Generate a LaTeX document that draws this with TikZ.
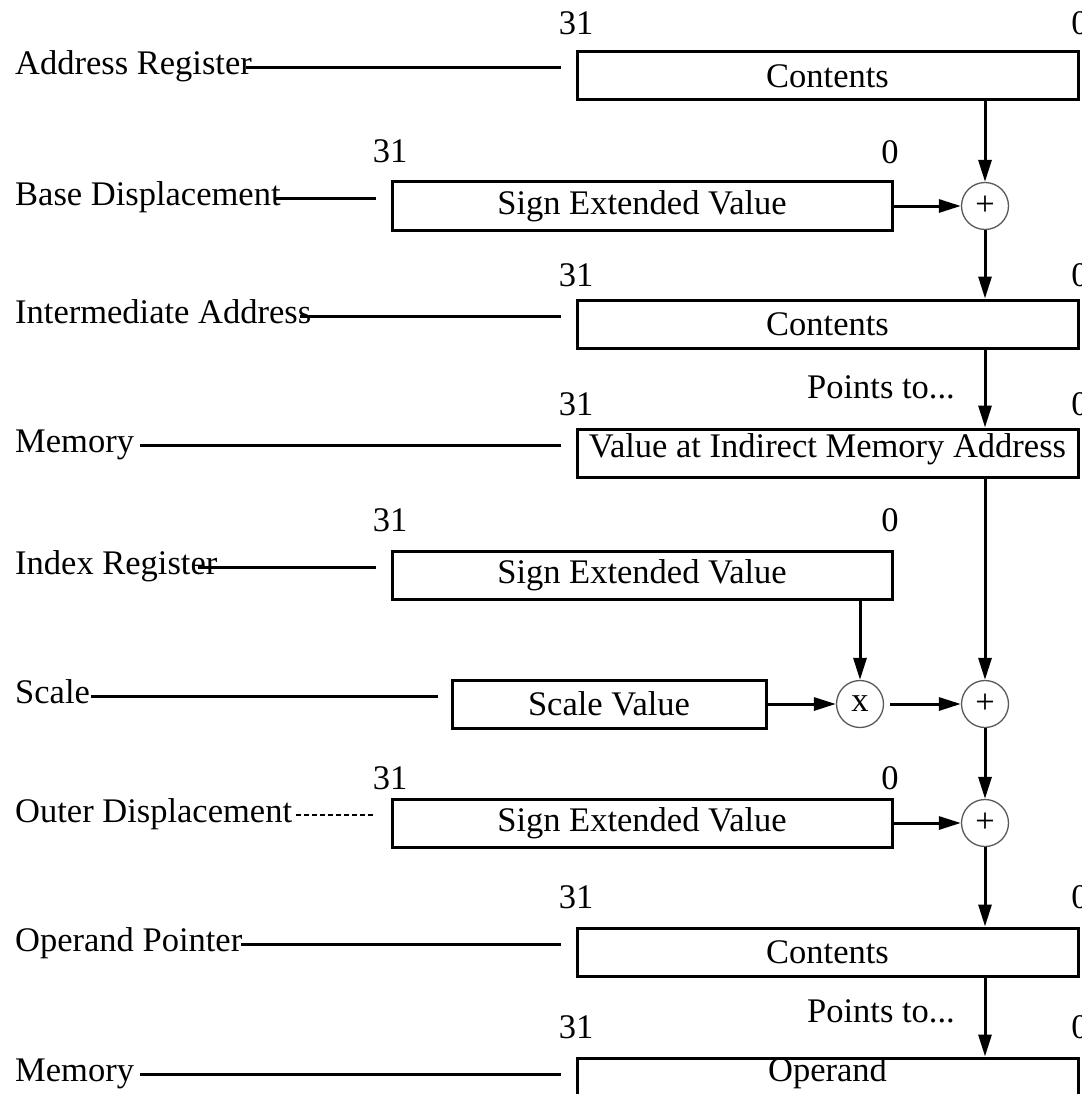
\documentclass[tikz,border=0pt]{standalone}
\usepackage{fontspec}
\setmainfont{Liberation Serif}
\usetikzlibrary{arrows.meta}
\begin{document}
\begin{tikzpicture}[x=1pt,y=-1pt,
  every node/.style={font=\fontsize{34.5}{40}\selectfont, inner sep=0pt},
  reg/.style={draw, line width=3pt, rectangle, minimum height=48pt},
  wide/.style={reg, minimum width=501pt},
  half/.style={reg, minimum width=500pt},
  op/.style={draw=black!65, line width=1.3pt, circle, minimum size=47pt},
  lbl/.style={anchor=base west},
  bit/.style={anchor=base},
  lead/.style={line width=3pt},
  dlead/.style={line width=1.5pt, dash pattern=on 5pt off 3pt},
  conn/.style={line width=3pt, -{Triangle[length=22pt,width=13pt]}},
]
\useasboundingbox (0,0) rectangle (1081,1094);

% boxes
\node[wide] (B1) at (827.5,76) {Contents};
\node[half] (B2) at (642,206) {Sign Extended Value};
\node[op] (P1) at (985,206) {+};
\node[wide] (B3) at (827.5,324) {Contents};
\node[wide, text height=23pt, text depth=15pt] (B4) at (827.5,453) {Value at Indirect Memory Address};
\node[half] (B5) at (642,575) {Sign Extended Value};
\node[reg, minimum width=314pt] (SV) at (609,704) {Scale Value};
\node[op] (T) at (860,704) {x};
\node[op] (P2) at (985,704) {+};
\node[half] (B7) at (642,823) {Sign Extended Value};
\node[op] (P3) at (985,823) {+};
\node[wide] (B8) at (827.5,952) {Contents};
\node[wide, text height=23pt, text depth=25pt] (B9) at (827.5,1082) {Operand};

% bit numbers
\node[bit] (n1a) at (576,35) {31};   \node[bit] (n1b) at (1080,35) {0};
\node[bit] (n2a) at (390,163) {31};  \node[bit] (n2b) at (890,164) {0};
\node[bit] (n3a) at (576,286) {31};  \node[bit] (n3b) at (1080,286) {0};
\node[bit] (n4a) at (576,415) {31};  \node[bit] (n4b) at (1080,415) {0};
\node[bit] (n5a) at (390,531) {31};  \node[bit] (n5b) at (890,531) {0};
\node[bit] (n7a) at (390,789) {31};  \node[bit] (n7b) at (890,789) {0};
\node[bit] (n8a) at (576,908) {31};  \node[bit] (n8b) at (1080,908) {0};
\node[bit] (n9a) at (576,1038) {31}; \node[bit] (n9b) at (1080,1038) {0};

% points to
\node[anchor=base east] (pt1) at (955,398) {Points to...};
\node[anchor=base east] (pt2) at (955,1022) {Points to...};

% left labels and leader lines
\node[lbl] (lA) at (15,75) {Address Register};
\coordinate (sA) at (246,68);
\draw[lead] (sA) -- ([shift={(-15,-8)}]B1.west);
\node[lbl] (lB) at (15,205) {Base Displacement};
\coordinate (sB) at (276,198);
\draw[lead] (sB) -- ([shift={(-15,-8)}]B2.west);
\node[lbl] (lC) at (15,323) {Intermediate Address};
\coordinate (sC) at (300,316);
\draw[lead] (sC) -- ([shift={(-15,-8)}]B3.west);
\node[lbl] (lD) at (15,452) {Memory};
\coordinate (sD) at (140,445);
\draw[lead] (sD) -- ([shift={(-15,-8)}]B4.west);
\node[lbl] (lE) at (15,574) {Index Register};
\coordinate (sE) at (198,567);
\draw[lead] (sE) -- ([shift={(-15,-8)}]B5.west);
\node[lbl] (lF) at (15,703) {Scale};
\coordinate (sF) at (91,696);
\draw[lead] (sF) -- ([shift={(-13,-8)}]SV.west);
\node[lbl] (lG) at (15,822) {Outer Displacement};
\coordinate (sG) at (296,815);
\draw[dlead] (sG) -- ([shift={(-15,-8)}]B7.west);
\node[lbl] (lH) at (15,951) {Operand Pointer};
\coordinate (sH) at (241,944);
\draw[lead] (sH) -- ([shift={(-15,-8)}]B8.west);
\node[lbl] (lI) at (15,1081) {Memory};
\coordinate (sI) at (140,1074);
\draw[lead] (sI) -- ([shift={(-15,-8)}]B9.west);

% connectors
\draw[conn] (B1.south -| P1) -- (P1.north);
\draw[conn] (B2.east) -- (P1.west);
\draw[conn] (P1.south) -- (B3.north -| P1);
\draw[conn] (B3.south -| P1) -- (B4.north -| P1);
\draw[conn] (B4.south -| P2) -- (P2.north);
\draw[conn] (B5.south -| T) -- (T.north);
\draw[conn] (SV.east) -- (T.west);
\draw[conn, shorten <=6pt] (T.east) -- (P2.west);
\draw[conn] (P2.south) -- (P3.north);
\draw[conn] (B7.east) -- (P3.west);
\draw[conn] (P3.south) -- (B8.north -| P3);
\draw[conn] (B8.south -| P3) -- (B9.north -| P3);
\end{tikzpicture}
\end{document}
